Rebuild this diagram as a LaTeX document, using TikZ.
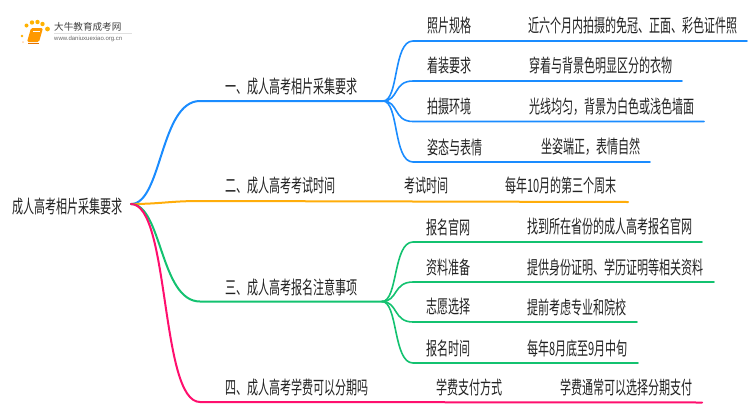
\documentclass[tikz,border=0pt]{standalone}
\usepackage{fontspec}
\setmainfont{Liberation Sans}
\newfontfamily\cjk[FakeStretch=0.6]{Noto Sans CJK SC}
\newfontfamily\logocjk{Noto Sans CJK SC}
\definecolor{bluebr}{HTML}{1A8CFF}
\definecolor{orangebr}{HTML}{FFAD0A}
\definecolor{greenbr}{HTML}{13C270}
\definecolor{pinkbr}{HTML}{FF0F6E}
\definecolor{inkc}{HTML}{222222}
\tikzset{
  lbl/.style={anchor=west, inner sep=0pt, text=inkc, font=\cjk\fontsize{18.4}{18.4}\selectfont},
  mainbr/.style={line width=2pt, line cap=round},
  subbr/.style={line width=1.6pt, line cap=round},
}
\begin{document}
\begin{tikzpicture}[x=1pt, y=-1pt]
  \useasboundingbox (0,0) rectangle (750,410);
  \fill[white] (0,0) rectangle (750,410);
  % Logo
  \foreach \x/\y/\r in {22/36/1.3, 26.5/25.5/2, 32/22.5/2.2, 37.5/22/2.2, 42.5/24/2.2, 47.5/29/2.4}
    \fill[orange!60!yellow] (\x,\y) circle (\r);
  \fill[orange!35] (23,42) circle (1);
  \fill[orange!80!yellow, rounded corners=1.5pt] (31,28) -- (43,28) -- (39,42) -- (27,42) -- cycle;
  \draw[white, line width=0.6pt] (33,31) -- (40,31);
  \draw[orange!90!black, line width=0.8pt] (28,43) -- (39,43);
  \node[anchor=west, inner sep=0pt, text=black!75, font=\logocjk\fontsize{9.6}{10}\selectfont] (logotext) at (54,27) {大牛教育成考网};
  \node[anchor=west, inner sep=0pt, text=black!60, font=\fontsize{6}{6}\selectfont] (logourl) at (54,39) {www.daniuxuexiao.org.cn};
  \draw[black!12, line width=0.5pt] (54,33) -- (132,33);
  % Root
  \node[lbl] (root) at (12,207) {成人高考相片采集要求};
  \coordinate (rootout) at (131,204);
  % Branch 1
  \node[lbl] (brone) at (225,87) {一、成人高考相片采集要求};
  \coordinate (bronea) at (200,101);
  \coordinate (broneb) at (383,101);
  \draw[mainbr, bluebr] (rootout) .. controls (162,204) and (160,101) .. (bronea) -- (broneb);
  \foreach \n/\y/\e/\tx/\vx/\a/\b in {1/41/747/427/528/照片规格/近六个月内拍摄的免冠、正面、彩色证件照,
      2/81/682/427/529/着装要求/穿着与背景色明显区分的衣物,
      3/121.5/704/427/529/拍摄环境/光线均匀，背景为白色或浅色墙面,
      4/162/650/427/541/姿态与表情/坐姿端正，表情自然} {
    \node[lbl] (oneleaf\n) at (\tx,\y-15) {\a};
    \node[lbl] (oneval\n) at (\vx,\y-15) {\b};
    \coordinate (onea\n) at (413,\y);
    \coordinate (oneb\n) at (\e,\y);
    \draw[subbr, bluebr] (broneb) .. controls (399,101) and (393,\y) .. (onea\n) -- (oneb\n);
  }
  % Branch 2
  \node[lbl] (brtwo) at (225,186) {二、成人高考考试时间};
  \node[lbl] (twoleaf) at (404,186) {考试时间};
  \node[lbl] (twoval) at (505,186) {每年10月的第三个周末};
  \coordinate (brtwoa) at (200,201);
  \coordinate (brtwob) at (628,202);
  \draw[mainbr, orangebr] (rootout) .. controls (160,204) and (170,201) .. (brtwoa) -- (brtwob);
  % Branch 3
  \node[lbl] (brthree) at (225,287) {三、成人高考报名注意事项};
  \coordinate (brthreea) at (200,301.5);
  \coordinate (brthreeb) at (382,301.5);
  \draw[mainbr, greenbr] (rootout) .. controls (162,204) and (160,301.5) .. (brthreea) -- (brthreeb);
  \foreach \n/\y/\e/\vx/\a/\b in {1/242/702/527/报名官网/找到所在省份的成人高考报名官网,
      2/282/714/527/资料准备/提供身份证明、学历证明等相关资料,
      3/322/637/527/志愿选择/提前考虑专业和院校,
      4/363/638/527/报名时间/每年8月底至9月中旬} {
    \node[lbl] (threeleaf\n) at (426,\y-15) {\a};
    \node[lbl] (threeval\n) at (\vx,\y-15) {\b};
    \coordinate (threea\n) at (413,\y);
    \coordinate (threeb\n) at (\e,\y);
    \draw[subbr, greenbr] (brthreeb) .. controls (398,301.5) and (393,\y) .. (threea\n) -- (threeb\n);
  }
  % Branch 4
  \node[lbl] (brfour) at (225,387) {四、成人高考学费可以分期吗};
  \node[lbl] (fourleaf) at (436,387) {学费支付方式};
  \node[lbl] (fourval) at (560,387) {学费通常可以选择分期支付};
  \coordinate (brfoura) at (200,402);
  \coordinate (brfourb) at (702,402.5);
  \draw[mainbr, pinkbr] (rootout) .. controls (170,204) and (160,402) .. (brfoura) -- (brfourb);
\end{tikzpicture}
\end{document}
